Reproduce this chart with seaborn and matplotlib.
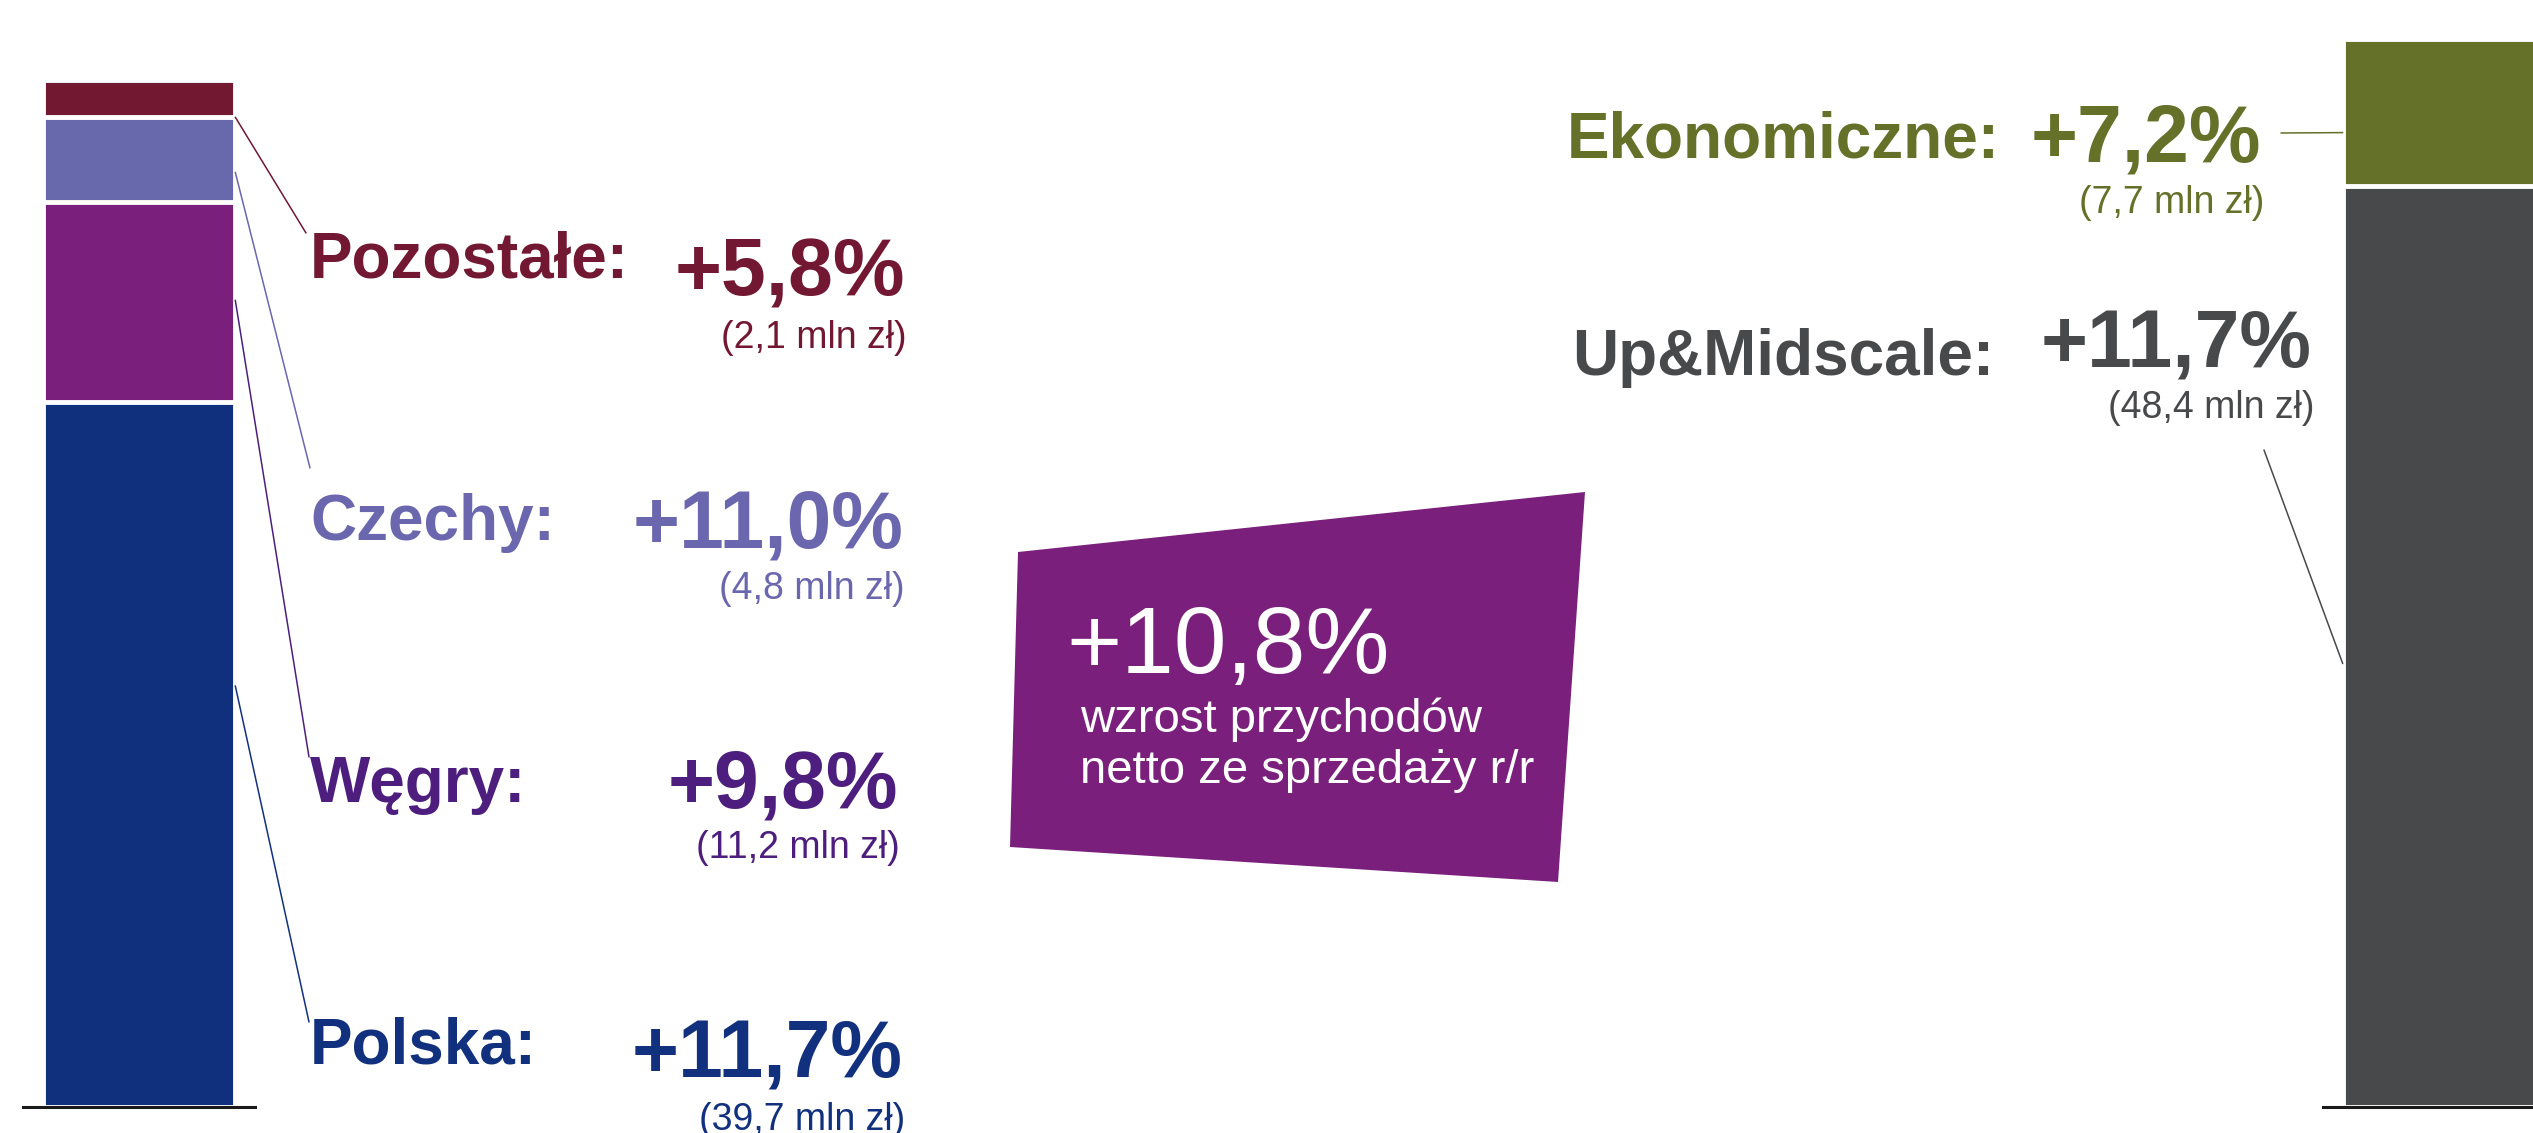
# Przychody netto ze sprzedaży - struktura wg krajów i segmentów

import numpy as np
import matplotlib.pyplot as plt
import seaborn as sns
from matplotlib.patches import Polygon

# kraje (od dołu słupka), mln zł
country_names = ["Polska", "Węgry", "Czechy", "Pozostałe"]
country_values = [39.7, 11.2, 4.8, 2.1]
country_growth = ["+11,7%", "+9,8%", "+11,0%", "+5,8%"]
country_amounts = ["(39,7 mln zł)", "(11,2 mln zł)", "(4,8 mln zł)", "(2,1 mln zł)"]

# segmenty (od dołu słupka), mln zł
segment_names = ["Up&Midscale", "Ekonomiczne"]
segment_values = [48.4, 7.7]
segment_growth = ["+11,7%", "+7,2%"]
segment_amounts = ["(48,4 mln zł)", "(7,7 mln zł)"]

total_growth = "+10,8%"
total_caption = ["wzrost przychodów", "netto ze sprzedaży r/r"]

country_bar_colors = ["#10307E", "#7A1F7B", "#6868AC", "#721831"]
country_text_colors = ["#11307E", "#4E1E7E", "#6A67AE", "#721832"]
segment_colors = ["#48494B", "#657029"]

W, H = 2533, 1133
sns.set_style("white")
plt.rcParams["font.family"] = ["Liberation Sans", "DejaVu Sans"]

fig = plt.figure(figsize=(W / 100, H / 100), dpi=100)


def px_text(x, y, s, **kw):
    # x, y in pixels from the top-left corner
    fig.text(x / W, 1 - y / H, s, va="baseline", **kw)


def stacked_bar(ax, values, colors):
    tops = np.cumsum(values)
    # draw the cumulative bars from the tallest down so each segment shows
    for top, col in zip(tops[::-1], colors[::-1]):
        sns.barplot(x=[0], y=[top], color=col, saturation=1, width=0.83,
                    edgecolor="white", linewidth=3.5, errorbar=None, ax=ax)
    ax.set_xlim(-0.5, 0.5)
    ax.set_xticks([])
    ax.set_yticks([])
    ax.set_xlabel("")
    ax.set_ylabel("")
    for side in ["top", "left", "right"]:
        ax.spines[side].set_visible(False)
    ax.spines["bottom"].set_color("#1a1a1a")
    ax.spines["bottom"].set_linewidth(2.2)
    ax.patch.set_alpha(0)


# left bar: countries
ax_l = fig.add_axes([23 / W, 26 / H, 232 / W, 1100 / H])
stacked_bar(ax_l, country_values, country_bar_colors)
ax_l.set_ylim(0, 61.9)

# right bar: segments (cut by the right edge)
ax_r = fig.add_axes([2323 / W, 26 / H, 232 / W, 1100 / H])
stacked_bar(ax_r, segment_values, segment_colors)
ax_r.set_ylim(0, 57.8)

# country labels
label_pos = [(1063, 1077, 1130, 903), (802, 807, 858, 898),
             (540, 548, 599, 903), (278, 295, 348, 905)]
for name, g, a, c, (yl, yv, ya, xr) in zip(country_names, country_growth,
                                           country_amounts, country_text_colors,
                                           label_pos):
    px_text(310, yl, name + ":", color=c, fontsize=46, fontweight="bold")
    px_text(xr, yv, g, color=c, fontsize=58, fontweight="bold", ha="right")
    px_text(xr + 2, ya, a, color=c, fontsize=27, ha="right")

# leader lines from the left bar to the labels
anchors_l = [23.7, 45.4, 52.6, 55.7]
ends_l = [(309, 1022), (309, 757), (310, 468), (306, 233)]
for yd, (ex, ey), c in zip(anchors_l, ends_l, country_text_colors):
    ax_l.annotate("", xy=(0.415, yd), xycoords="data",
                  xytext=(ex / W, 1 - ey / H), textcoords="figure fraction",
                  arrowprops=dict(arrowstyle="-", color=c, lw=1.1,
                                  shrinkA=0, shrinkB=0))

# segment labels
seg_pos = [(1572, 375, 2312, 368, 418), (1567, 157, 2261, 162, 213)]
for name, g, a, c, (xl, yl, xr, yv, ya) in zip(segment_names, segment_growth,
                                               segment_amounts, segment_colors,
                                               seg_pos):
    px_text(xl, yl, name + ":", color=c, fontsize=46, fontweight="bold")
    px_text(xr, yv, g, color=c, fontsize=58, fontweight="bold", ha="right")
    px_text(xr + 3, ya, a, color=c, fontsize=27, ha="right")

anchors_r = [23.3, 51.2]
ends_r = [(2264, 450), (2281, 133)]
for yd, (ex, ey), c in zip(anchors_r, ends_r, segment_colors):
    ax_r.annotate("", xy=(-0.415, yd), xycoords="data",
                  xytext=(ex / W, 1 - ey / H), textcoords="figure fraction",
                  arrowprops=dict(arrowstyle="-", color=c, lw=1.1,
                                  shrinkA=0, shrinkB=0))

# purple box in the middle
corners = [(1018, 552), (1585, 492), (1558, 882), (1010, 847)]
box = Polygon([(x / W, 1 - y / H) for x, y in corners], closed=True,
              facecolor="#7A1F7B", edgecolor="none", transform=fig.transFigure)
fig.add_artist(box)
px_text(1066, 673, total_growth, color="white", fontsize=68)
px_text(1080, 732, total_caption[0], color="white", fontsize=34)
px_text(1080, 783, total_caption[1], color="white", fontsize=34)

plt.savefig("out.png", dpi=100, facecolor="white")
